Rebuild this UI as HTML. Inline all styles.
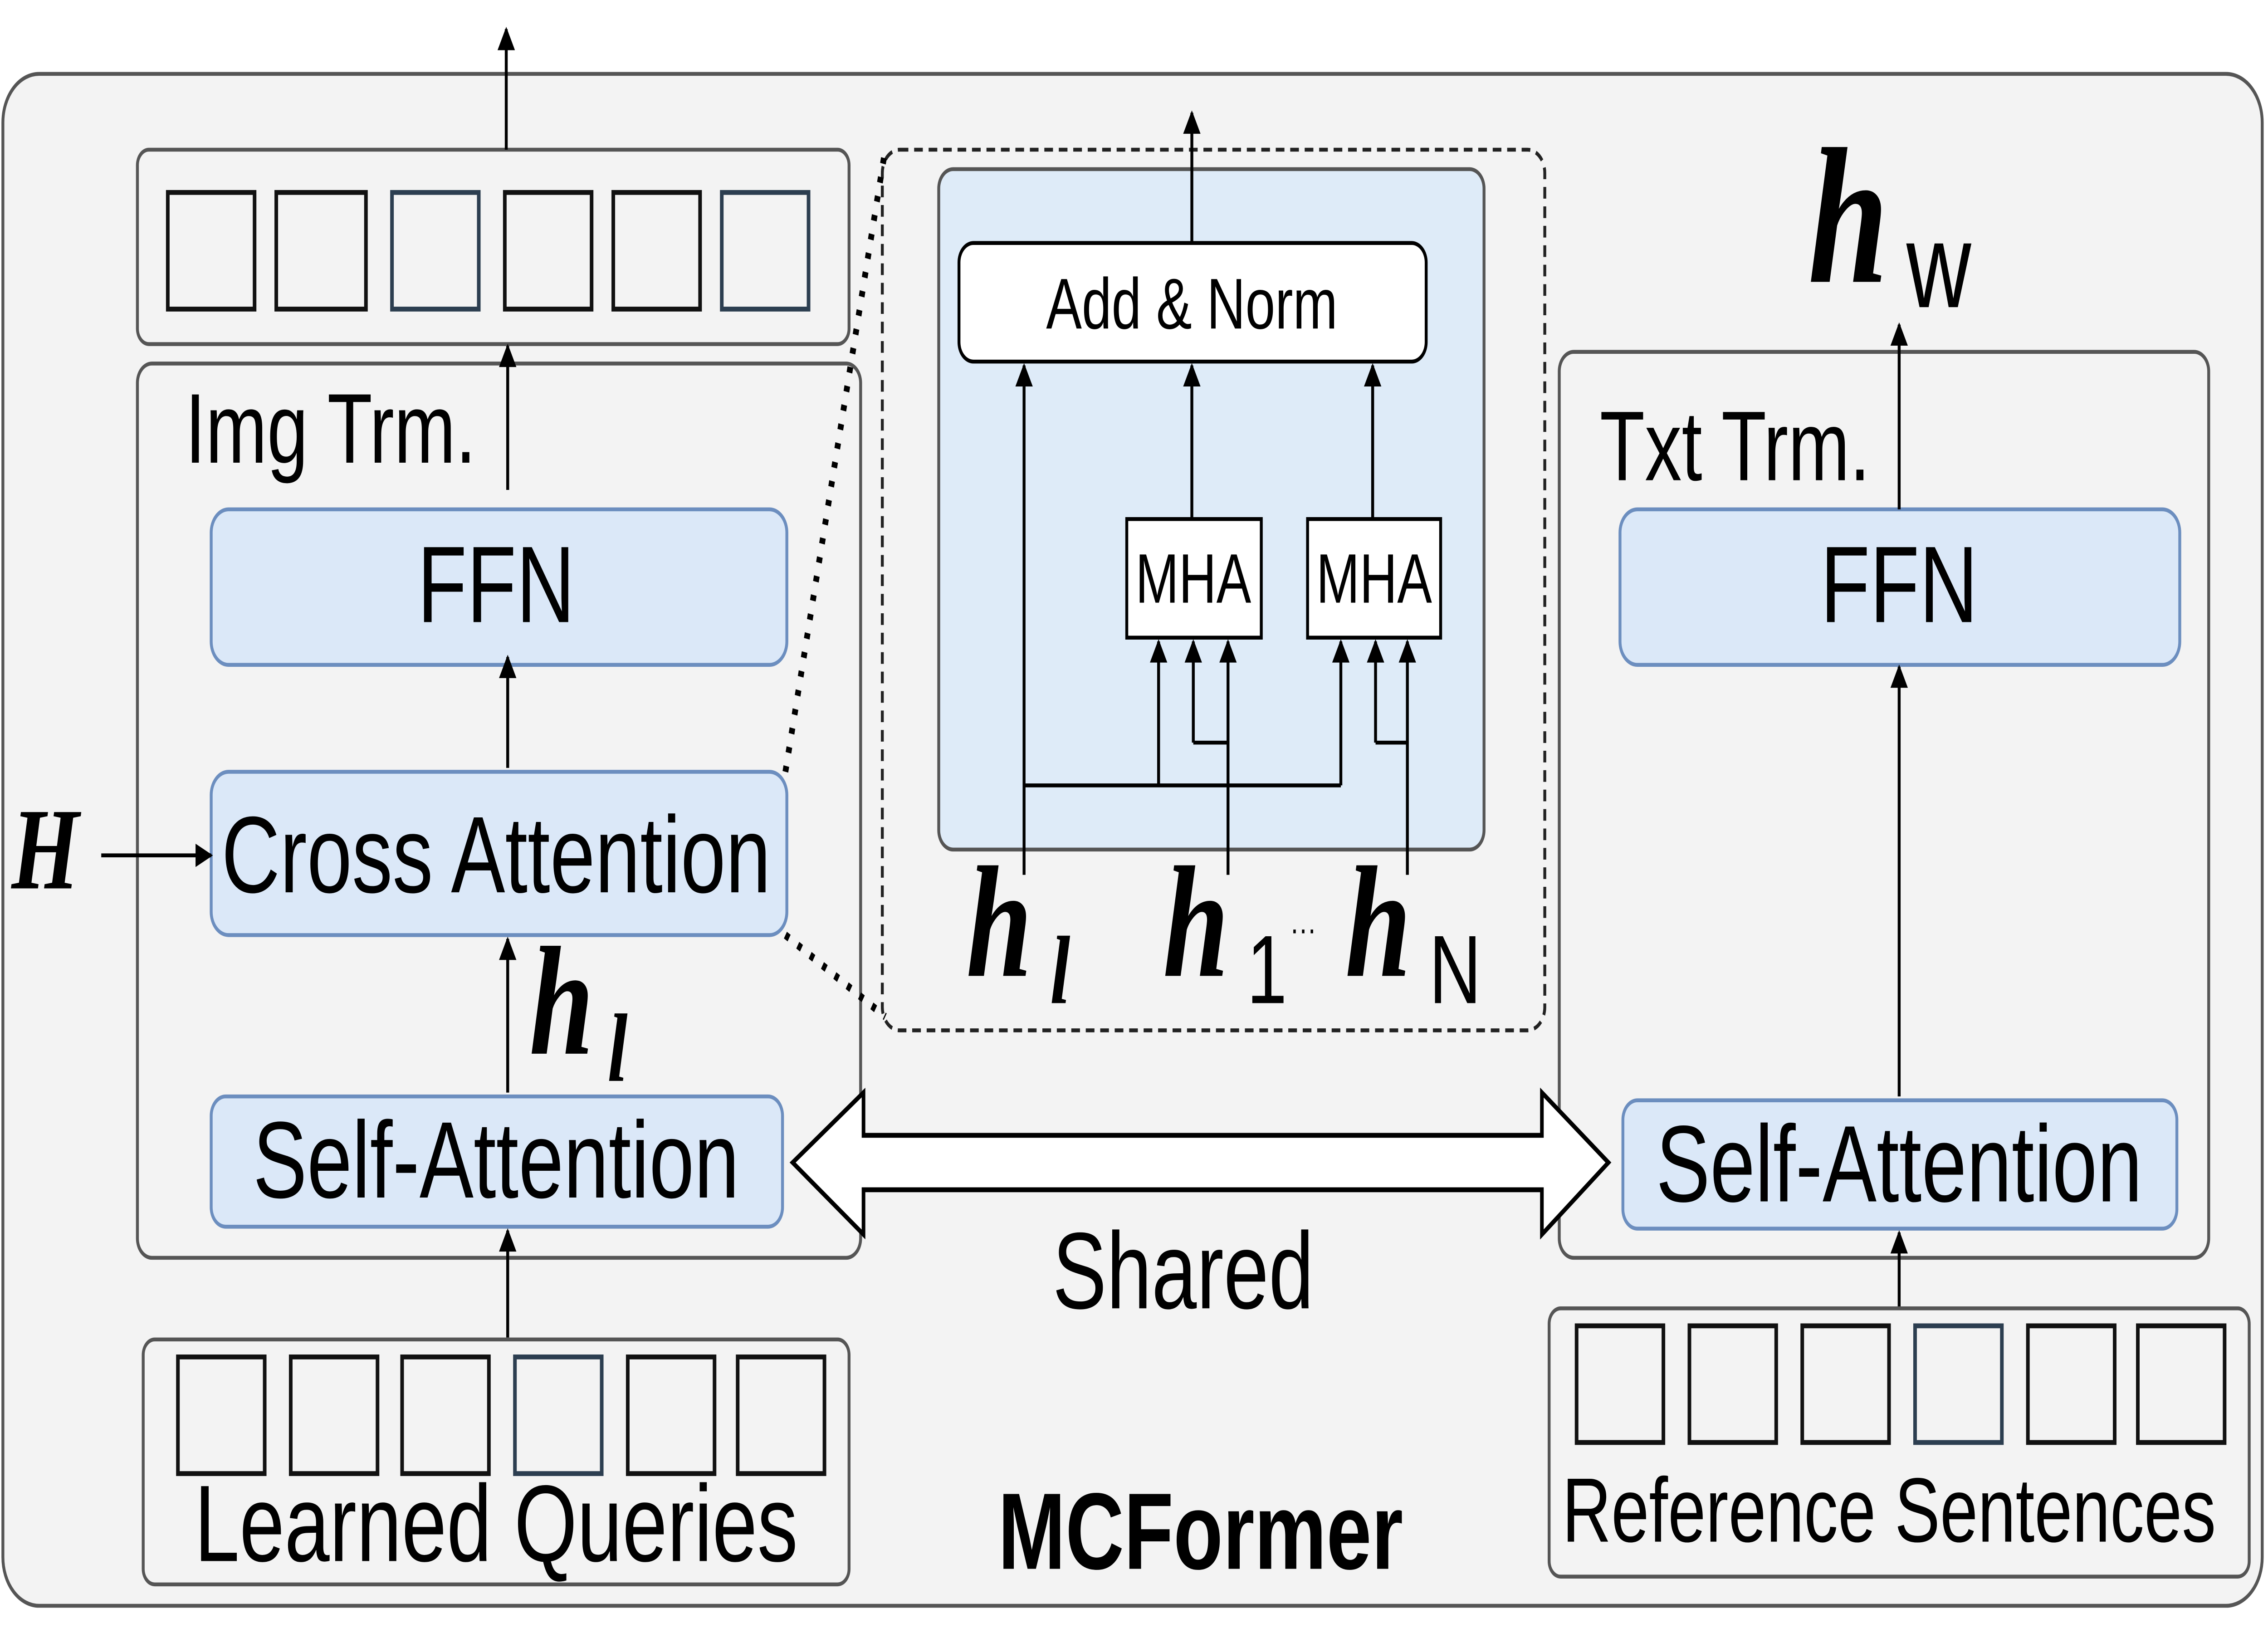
<!DOCTYPE html>
<html><head><meta charset="utf-8"><style>
html,body{margin:0;padding:0;background:#fff;overflow:hidden;width:100%;height:100%;}
svg{display:block;width:100vw;height:100vh;}
text{font-family:"Liberation Sans",sans-serif;}
.m{font-family:"Liberation Serif",serif;font-weight:bold;font-style:italic;}
</style></head><body>
<svg viewBox="0 0 1568 840" preserveAspectRatio="none" xmlns="http://www.w3.org/2000/svg">
<defs>
<marker id="a" viewBox="0 0 10 10" refX="9" refY="5" markerWidth="14" markerHeight="12" markerUnits="userSpaceOnUse" orient="auto"><path d="M0,0 L10,5 L0,10 Z" fill="#000"/></marker>
</defs>
<rect x="2" y="38" width="1562" height="788" rx="25" fill="#f3f3f3" stroke="#555" stroke-width="2"/>
<rect x="95" y="77" width="492" height="100" rx="8" fill="#f3f3f3" stroke="#555" stroke-width="2"/>
<g fill="none" stroke="#111" stroke-width="2.5">
<rect x="116" y="99" width="60" height="60"/><rect x="191" y="99" width="62" height="60"/><rect x="271" y="99" width="60" height="60" stroke="#2c3e50"/><rect x="349" y="99" width="60" height="60"/><rect x="424" y="99" width="60" height="60"/><rect x="499" y="99" width="60" height="60" stroke="#2c3e50"/>
</g>
<rect x="95" y="187" width="500" height="460" rx="10" fill="#f3f3f3" stroke="#555" stroke-width="2"/>
<text x="128" y="238" font-size="51">Img Trm.</text>
<rect x="1078" y="181" width="449" height="466" rx="10" fill="#f3f3f3" stroke="#555" stroke-width="2"/>
<text x="1106" y="247" font-size="51">Txt Trm.</text>
<g fill="#dbe8f8" stroke="#6c8ebf" stroke-width="2">
<rect x="146" y="262" width="398" height="80" rx="12"/>
<rect x="146" y="397" width="398" height="84" rx="12"/>
<rect x="146" y="564" width="395" height="67" rx="10"/>
<rect x="1120" y="262" width="387" height="80" rx="12"/>
<rect x="1122" y="566" width="383" height="66" rx="10"/>
</g>
<text x="343" y="320" font-size="56" text-anchor="middle">FFN</text>
<text x="343" y="459" font-size="56" text-anchor="middle">Cross Attention</text>
<text x="343" y="616" font-size="56" text-anchor="middle">Self-Attention</text>
<text x="1313" y="320" font-size="56" text-anchor="middle">FFN</text>
<text x="1313" y="618" font-size="56" text-anchor="middle">Self-Attention</text>
<rect x="610" y="77" width="458" height="453" rx="12" fill="none" stroke="#222" stroke-width="2" stroke-dasharray="6,4"/>
<line x1="543" y1="397" x2="612" y2="77" stroke="#000" stroke-width="4" stroke-dasharray="3,7"/>
<line x1="543" y1="481" x2="612" y2="523" stroke="#000" stroke-width="4" stroke-dasharray="3,7"/>
<rect x="649" y="87" width="377" height="350" rx="10" fill="#deebf8" stroke="#555" stroke-width="2"/>
<rect x="663" y="125" width="323" height="61" rx="10" fill="#fff" stroke="#000" stroke-width="2"/>
<text x="824" y="169" font-size="37" text-anchor="middle">Add &amp; Norm</text>
<rect x="779" y="267" width="93" height="61" fill="#fff" stroke="#000" stroke-width="2"/>
<rect x="904" y="267" width="92" height="61" fill="#fff" stroke="#000" stroke-width="2"/>
<text x="825" y="310" font-size="36" text-anchor="middle">MHA</text>
<text x="950" y="310" font-size="36" text-anchor="middle">MHA</text>
<g stroke="#000" stroke-width="2" fill="none">
<line x1="708" y1="404" x2="927" y2="404"/>
<line x1="825" y1="382" x2="849" y2="382"/>
<line x1="951" y1="382" x2="973" y2="382"/>
</g>
<g stroke="#000" stroke-width="2" marker-end="url(#a)">
<line x1="351" y1="562" x2="351" y2="483"/>
<line x1="351" y1="395" x2="351" y2="338"/>
<line x1="351" y1="252" x2="351" y2="178"/>
<line x1="351" y1="688" x2="351" y2="633"/>
<line x1="350" y1="77" x2="350" y2="15"/>
<line x1="70" y1="440" x2="146" y2="440"/>
<line x1="824" y1="125" x2="824" y2="58"/>
<line x1="824" y1="267" x2="824" y2="188"/>
<line x1="949" y1="267" x2="949" y2="188"/>
<line x1="708" y1="450" x2="708" y2="188"/>
<line x1="801" y1="404" x2="801" y2="330"/>
<line x1="825" y1="382" x2="825" y2="330"/>
<line x1="849" y1="450" x2="849" y2="330"/>
<line x1="927" y1="404" x2="927" y2="330"/>
<line x1="951" y1="382" x2="951" y2="330"/>
<line x1="973" y1="450" x2="973" y2="330"/>
<line x1="1313" y1="564" x2="1313" y2="343"/>
<line x1="1313" y1="262" x2="1313" y2="167"/>
<line x1="1313" y1="672" x2="1313" y2="634"/>
</g>
<text class="m" x="8" y="457" font-size="60">H</text>
<text class="m" x="366" y="542" font-size="80">h</text><text class="m" x="420" y="556" font-size="50">l</text>
<rect x="99" y="689" width="488" height="126" rx="8" fill="#f3f3f3" stroke="#555" stroke-width="2"/>
<g fill="none" stroke="#111" stroke-width="2.5">
<rect x="123" y="698" width="60" height="60"/><rect x="201" y="698" width="60" height="60"/><rect x="278" y="698" width="60" height="60"/><rect x="356" y="698" width="60" height="60" stroke="#2c3e50"/><rect x="434" y="698" width="60" height="60"/><rect x="510" y="698" width="60" height="60"/>
</g>
<text x="343" y="803" font-size="56" text-anchor="middle">Learned Queries</text>
<text class="m" x="668" y="502" font-size="82">h</text><text class="m" x="726" y="516" font-size="50">l</text>
<text class="m" x="804" y="502" font-size="82">h</text><text x="862" y="516" font-family="Liberation Serif" font-size="50">1</text>
<text x="892" y="484" font-size="18">···</text>
<text class="m" x="930" y="502" font-size="82">h</text><text x="988" y="516" font-family="Liberation Serif" font-size="50">N</text>
<path d="M548,598 L597,562 L597,584 L1066,584 L1066,562 L1112,598 L1066,635 L1066,612 L597,612 L597,635 Z" fill="#fff" stroke="#000" stroke-width="2.5"/>
<text x="818" y="673" font-size="56" text-anchor="middle">Shared</text>
<text class="m" x="1250" y="145" font-size="100">h</text><text x="1318" y="158" font-family="Liberation Serif" font-size="62">w</text>
<rect x="1071" y="673" width="484" height="138" rx="8" fill="#f3f3f3" stroke="#555" stroke-width="2"/>
<g fill="none" stroke="#111" stroke-width="2.5">
<rect x="1090" y="682" width="60" height="60"/><rect x="1168" y="682" width="60" height="60"/><rect x="1246" y="682" width="60" height="60"/><rect x="1324" y="682" width="60" height="60" stroke="#2c3e50"/><rect x="1402" y="682" width="60" height="60"/><rect x="1478" y="682" width="60" height="60"/>
</g>
<text x="1306" y="793" font-size="47" text-anchor="middle">Reference Sentences</text>
<text x="830" y="807" font-size="56" font-weight="bold" text-anchor="middle">MCFormer</text>
</svg>
</body></html>
